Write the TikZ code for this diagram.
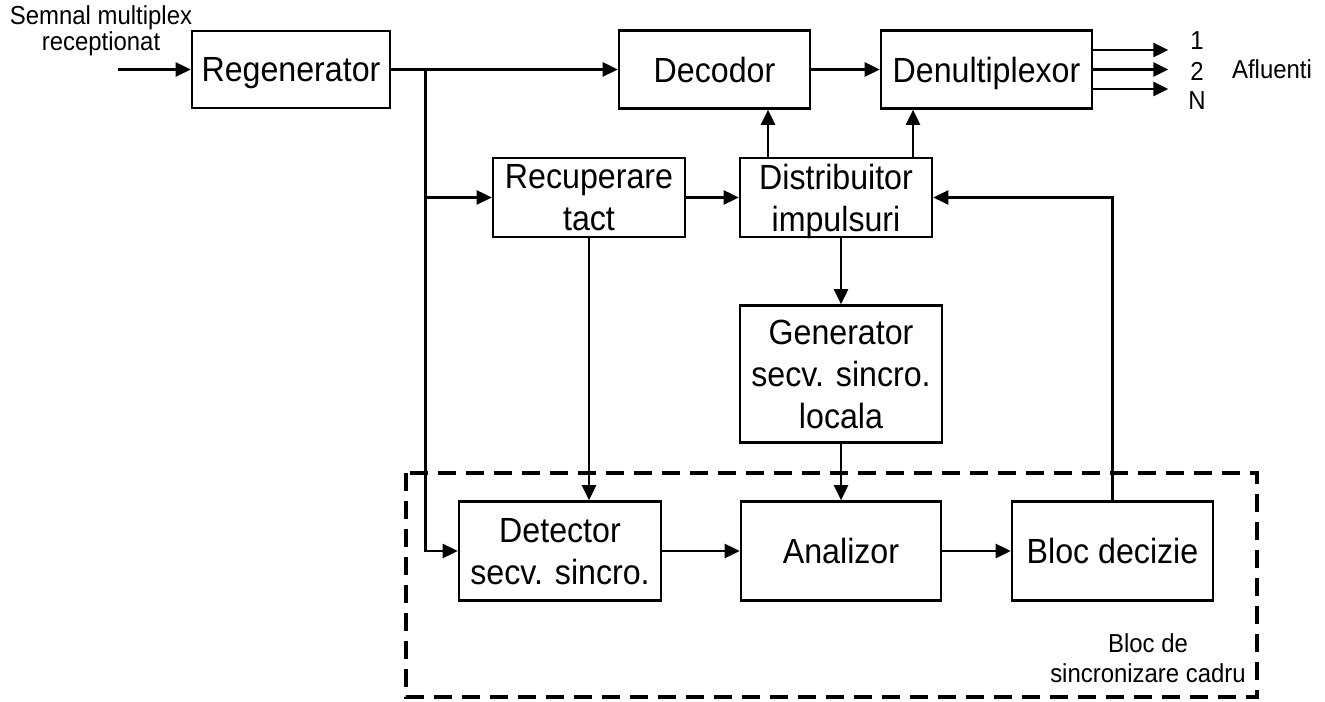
\documentclass[tikz,border=0pt]{standalone}
\usepackage{fontspec}
\setmainfont[FakeStretch=0.92]{Liberation Sans}
\usetikzlibrary{arrows.meta,calc}

\begin{document}
\begin{tikzpicture}[x=0.02cm, y=-0.02cm, line width=1.5pt,
	>={Triangle[length=0.3cm,width=0.28cm]},
	main node/.style={draw,rectangle,align=center,inner sep=0pt,text depth=0pt,font=\fontsize{19.9}{23.9}\selectfont},
	small/.style={align=center,inner sep=0pt,font=\fontsize{14.8}{17}\selectfont},
	frame/.style={dash pattern=on 0.36cm off 0.2cm,line width=1.9pt}]
	
	\useasboundingbox (0,0) rectangle (1325,702);
	
	\node[main node,minimum width=3.96cm,minimum height=1.54cm] (1) at (291,69.5) {Regenerator};
	\node[main node,minimum width=3.82cm,minimum height=1.56cm] (2) at (714.5,69.5) {Decodor};
	\node[main node,minimum width=4.22cm,minimum height=1.56cm] (3) at (986.5,69.5) {Denultiplexor};
	\node[main node,minimum width=3.84cm,minimum height=1.58cm] (4) at (589,197.5) {Recuperare\\tact};
	\node[main node,minimum width=3.84cm,minimum height=1.58cm] (5) at (836,197.5) {Distribuitor\\impulsuri};
	\node[main node,minimum width=4.04cm,minimum height=2.74cm] (6) at (841,374) {Generator\\secv. sincro.\\locala};
	\node[main node,minimum width=4.04cm,minimum height=1.98cm] (7) at (560,551) {Detector\\secv. sincro.};
	\node[main node,minimum width=4cm,minimum height=1.98cm] (8) at (841,551) {Analizor};
	\node[main node,minimum width=4.02cm,minimum height=1.98cm] (9) at (1112.5,551) {Bloc decizie};
	
	\node[small,font=\fontsize{14.8}{12.5}\selectfont] (in label) at (101,31) {Semnal multiplex\\receptionat};
	\node[small] (n1) at (1197,41) {1};
	\node[small] (n2) at (1197,71) {2};
	\node[small] (nN) at (1197,101) {N};
	\node[small] (afl) at (1272,69) {Afluenti};
	\node[small] (sync label) at (1148,658) {Bloc de\\sincronizare cadru};
	
	\draw[frame] (406,473) rectangle (1257,697);
	
	\coordinate (in) at (118,69.5);
	\coordinate (s) at ($(1.east)+(34,0)$);
	\coordinate (d1) at ($(5.north)+(-68,0)$);
	\coordinate (d2) at ($(5.north)+(77,0)$);
	
	\draw[->] (in) -- (1.west);
	\path[->]
	(1) edge (2)
	(2) edge (3)
	(4) edge (5)
	(6) edge (8)
	(7) edge (8)
	(8) edge (9);
	\draw[->] (s) |- (7.west);
	\draw[->] (s |- 4.west) -- (4.west);
	\draw[->] (4.south) -- (4.south |- 7.north);
	\draw[->] (d1) -- (d1 |- 2.south);
	\draw[->] (d2) -- (d2 |- 3.south);
	\draw[->] (6.north |- 5.south) -- (6.north);
	\draw[->] (9.north) |- (5.east);
	
	\foreach \dy/\k in {-19.5/a,0/b,19.5/c} {
		\coordinate (o\k) at ($(3.east)+(75,\dy)$);
		\draw[->] (o\k -| 3.east) -- (o\k);
	}
\end{tikzpicture}
\end{document}
